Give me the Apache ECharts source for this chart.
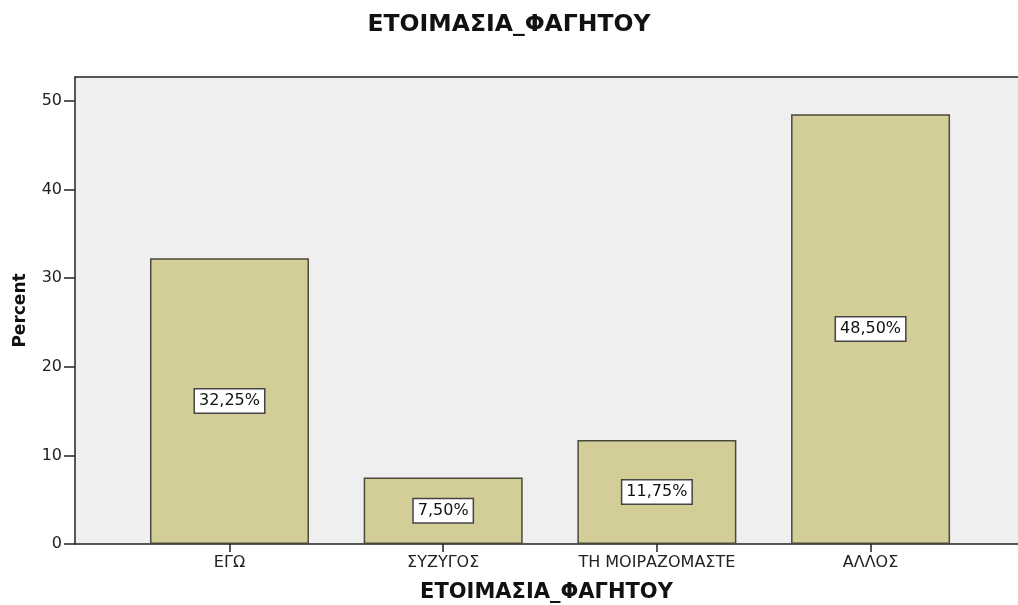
<!DOCTYPE html>
<html>
<head>
<meta charset="utf-8">
<script src="https://cdn.jsdelivr.net/npm/echarts@6/dist/echarts.min.js"></script>
<style>
  html, body { margin: 0; padding: 0; background: #fff; }
  #chart { width: 1018px; height: 605px; }
</style>
</head>
<body>
<div id="chart"></div>
<script>
const chartTitle = "ΕΤΟΙΜΑΣΙΑ_ΦΑΓΗΤΟΥ";
const categories = ["ΕΓΩ", "ΣΥΖΥΓΟΣ", "ΤΗ ΜΟΙΡΑΖΟΜΑΣΤΕ", "ΑΛΛΟΣ"];
const percents = [32.25, 7.5, 11.75, 48.5];
const yTicks = [0, 10, 20, 30, 40, 50];

const font = "DejaVu Sans, Verdana, sans-serif";
const myChart = echarts.init(document.getElementById("chart"));

// x is a value axis so the padding left/right of the bars matches SPSS
const catIdx = categories.map((c, i) => i);
const xMin = -0.723;
const xMax = 3.69;

myChart.setOption({
  animation: false,
  title: {
    text: chartTitle,
    left: "center",
    top: 8,
    textStyle: { fontFamily: font, fontSize: 23.5, fontWeight: "bold", color: "#111" },
  },
  grid: {
    left: 75,
    right: 0,
    top: 77,
    bottom: 61,
    outerBoundsMode: "none",
    containLabel: false,
    show: true,
    backgroundColor: "#efefef",
    borderWidth: 0,
  },
  xAxis: [
    {
      type: "value",
      min: xMin,
      max: xMax,
      name: chartTitle,
      nameLocation: "middle",
      nameGap: 38,
      nameTextStyle: { fontFamily: font, fontSize: 21, fontWeight: "bold", color: "#111" },
      axisLine: { show: true, onZero: false, lineStyle: { color: "#222", width: 1.5 } },
      axisTick: { show: true, length: 8, customValues: catIdx, lineStyle: { color: "#222", width: 1.5 } },
      axisLabel: {
        customValues: catIdx,
        margin: 11,
        fontFamily: font,
        fontSize: 16,
        color: "#222",
        formatter: (v) => categories[Math.round(v)] || "",
      },
      splitLine: { show: false },
    },
    {
      // top frame line
      type: "value",
      position: "top",
      min: xMin,
      max: xMax,
      axisLine: { show: true, onZero: false, lineStyle: { color: "#222", width: 1.5 } },
      axisTick: { show: false },
      axisLabel: { show: false },
      splitLine: { show: false },
    },
  ],
  yAxis: {
    type: "value",
    min: 0,
    max: 52.7,
    interval: 10,
    name: "Percent",
    nameLocation: "middle",
    nameGap: 46,
    nameTextStyle: { fontFamily: font, fontSize: 17, fontWeight: "bold", color: "#111" },
    axisLine: { show: true, onZero: false, lineStyle: { color: "#222", width: 1.5 } },
    axisTick: { show: true, length: 11, customValues: yTicks, lineStyle: { color: "#222", width: 1.5 } },
    axisLabel: {
      customValues: yTicks,
      margin: 13,
      fontFamily: font,
      fontSize: 16,
      color: "#222",
    },
    splitLine: { show: false },
  },
  series: [
    {
      type: "bar",
      barWidth: 159,
      data: percents.map((v, i) => [i, v]),
      itemStyle: { color: "#d3ce98", borderColor: "#4a4a3c", borderWidth: 1.5 },
      label: {
        show: true,
        position: "inside",
        fontFamily: font,
        fontSize: 16,
        color: "#111",
        backgroundColor: "#fff",
        borderColor: "#444",
        borderWidth: 1.5,
        padding: [4, 4, 3, 4],
        formatter: (p) => p.value[1].toFixed(2).replace(".", ",") + "%",
      },
    },
  ],
});
</script>
</body>
</html>
